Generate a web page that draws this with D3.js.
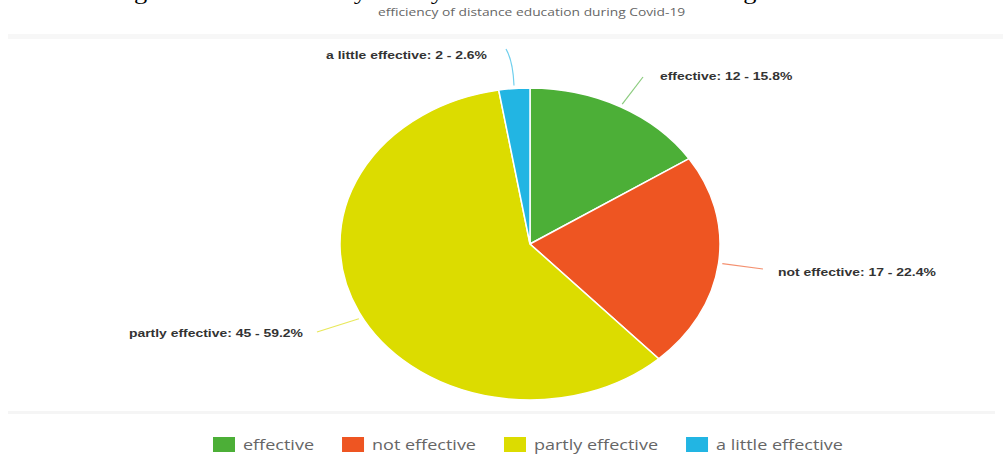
<!DOCTYPE html>
<html><head><meta charset="utf-8">
<script src="https://cdn.jsdelivr.net/npm/d3@7"></script>
<style>html,body{margin:0;padding:0;background:#fff;overflow:hidden}</style>
</head><body>
<svg id="chart" width="1003" height="455"></svg>
<script>
// ---- data ----
const categories = ["effective", "not effective", "partly effective", "a little effective"];
const counts = [12, 17, 45, 2];
const percents = ["15.8%", "22.4%", "59.2%", "2.6%"];
const colors = ["#4caf37", "#ee5522", "#dcdc00", "#22b5e3"];
const chartTitle = "efficiency of distance education during Covid-19";
const captionText = "Figure 4: The efficiency survey of Distance education during COVID-19";

// ---- layout ----
const W = 1003, H = 455;
const cx = 530, cy = 244, ry = 156, rx = 190;
const sx = 1.2; // horizontal text stretch
const labelLayout = [
  {tx: 660, ty: 76, anchor: "start", ex: 643, ey: 77, ang: null, curve: false},
  {tx: 778, ty: 272, anchor: "start", ex: 763, ey: 269, ang: null, curve: false},
  {tx: 303, ty: 333, anchor: "end", ex: 317, ey: 332, ang: 242, curve: false},
  {tx: 487, ty: 55, anchor: "end", ex: 506, ey: 49, ang: null, curve: true}
];

const svg = d3.select("#chart");

function stretch(sel, f) {
  sel.each(function() {
    const w = this.getComputedTextLength();
    d3.select(this).attr("textLength", w * (f || sx)).attr("lengthAdjust", "spacingAndGlyphs");
  });
}

// caption (cropped at top, as in the reference)
svg.append("text").attr("x", 112).attr("y", -1)
  .attr("font-family", "Liberation Serif, Times New Roman, serif")
  .attr("font-size", 22).attr("fill", "#000")
  .attr("textLength", 770).attr("lengthAdjust", "spacingAndGlyphs")
  .text(captionText);

// title
svg.append("text").attr("x", 378).attr("y", 16)
  .attr("font-family", "Open Sans, sans-serif").attr("font-size", 11.5).attr("fill", "#666")
  .text(chartTitle).call(stretch);

// faint separators
svg.append("rect").attr("x", 8).attr("y", 34).attr("width", W - 8).attr("height", 5).attr("fill", "#f7f7f7");
svg.append("rect").attr("x", 8).attr("y", 411).attr("width", W - 16).attr("height", 3).attr("fill", "#f5f5f5");

// pie
const pie = d3.pie().sort(null).value(d => d)(counts);
const arc = d3.arc().innerRadius(0).outerRadius(ry);
const g = svg.append("g").attr("transform", `translate(${cx},${cy}) scale(${rx / ry},1)`);
g.selectAll("path").data(pie).join("path")
  .attr("d", arc).attr("fill", (d, i) => colors[i])
  .attr("stroke", "#fff").attr("stroke-width", 1.5).attr("vector-effect", "non-scaling-stroke");

function ellipsePt(a, f) {
  return [cx + rx * f * Math.sin(a), cy - ry * f * Math.cos(a)];
}

// leaders + labels
pie.forEach((d, i) => {
  const L = labelLayout[i];
  const a = L.ang !== null ? L.ang * Math.PI / 180 : (d.startAngle + d.endAngle) / 2;
  const s = ellipsePt(a, 1.02);
  const path = L.curve
    ? `M${s[0]},${s[1]} Q${s[0] - 1},${L.ey + 12} ${L.ex},${L.ey}`
    : `M${s[0]},${s[1]} L${L.ex},${L.ey}`;
  svg.append("path").attr("d", path).attr("fill", "none")
    .attr("stroke", colors[i]).attr("stroke-opacity", 0.65).attr("stroke-width", 1.2);
  svg.append("text").attr("x", L.tx).attr("y", L.ty + 4)
    .attr("text-anchor", L.anchor)
    .attr("font-family", "Liberation Sans, Arial, sans-serif").attr("font-weight", "bold")
    .attr("font-size", 11.5).attr("fill", "#333")
    .text(`${categories[i]}: ${counts[i]} - ${percents[i]}`).call(stretch, 1.21);
});

// legend
const legend = svg.append("g");
let lx = 213;
categories.forEach((c, i) => {
  legend.append("rect").attr("x", lx).attr("y", 437).attr("width", 22).attr("height", 15).attr("fill", colors[i]);
  const t = legend.append("text").attr("x", lx + 30).attr("y", 450)
    .attr("font-family", "Open Sans, sans-serif").attr("font-size", 15).attr("fill", "#666")
    .text(c).call(stretch);
  lx += 30 + (+t.attr("textLength")) + 28;
});
</script>
</body></html>
